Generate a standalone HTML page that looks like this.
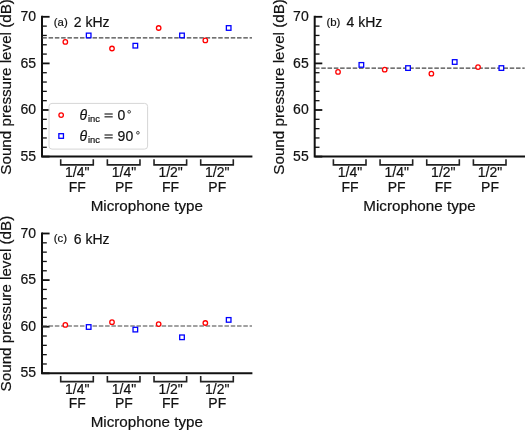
<!DOCTYPE html>
<html><head><meta charset="utf-8"><style>
html,body{margin:0;padding:0;background:#fff;}
svg{display:block;will-change:transform;}
text{font-family:"Liberation Sans",sans-serif;fill:#111;stroke:#111;stroke-width:0.2px;}
.tk{font-size:14.0px;}
.lab{font-size:15.2px;}
.tt{font-size:14.0px;}
.sm{font-size:11.4px;}
.maj{stroke:#111;stroke-width:1.8;}
.min{stroke:#111;stroke-width:1.3;}
.sp{stroke:#111;stroke-width:2;fill:none;stroke-linecap:butt;stroke-linejoin:miter;}
.br{stroke:#222;stroke-width:1.6;fill:none;}
.dash{stroke:#444;stroke-width:1.2;stroke-dasharray:4.5 1.782;}
.mr{stroke:#ff0000;stroke-width:1.3;fill:#fff;}
.mb{stroke:#0000ff;stroke-width:1.3;fill:#fff;}
.eq{fill:#111;}
.deg{fill:none;stroke:#222;stroke-width:0.85;}
.lg{stroke:#d6d6d6;stroke-width:1;fill:#fff;fill-opacity:0.8;}
</style></head>
<body><svg width="525" height="431" viewBox="0 0 525 431">
<rect width="525" height="431" fill="#fff"/>
<g transform="translate(0,0)">
<text class="lab" transform="translate(11.3,86.9) rotate(-90)" text-anchor="middle">Sound pressure level (dB)</text>
<text class="tk" x="36" y="160.7" text-anchor="end">55</text>
<text class="tk" x="36" y="114.1" text-anchor="end">60</text>
<text class="tk" x="36" y="67.5" text-anchor="end">65</text>
<text class="tk" x="36" y="20.9" text-anchor="end">70</text>
<line x1="42" y1="156.6" x2="49.6" y2="156.6" class="maj"/>
<line x1="42" y1="147.28" x2="46.8" y2="147.28" class="min"/>
<line x1="42" y1="137.96" x2="46.8" y2="137.96" class="min"/>
<line x1="42" y1="128.64" x2="46.8" y2="128.64" class="min"/>
<line x1="42" y1="119.32" x2="46.8" y2="119.32" class="min"/>
<line x1="42" y1="110" x2="49.6" y2="110" class="maj"/>
<line x1="42" y1="100.68" x2="46.8" y2="100.68" class="min"/>
<line x1="42" y1="91.36" x2="46.8" y2="91.36" class="min"/>
<line x1="42" y1="82.04" x2="46.8" y2="82.04" class="min"/>
<line x1="42" y1="72.72" x2="46.8" y2="72.72" class="min"/>
<line x1="42" y1="63.4" x2="49.6" y2="63.4" class="maj"/>
<line x1="42" y1="54.08" x2="46.8" y2="54.08" class="min"/>
<line x1="42" y1="44.76" x2="46.8" y2="44.76" class="min"/>
<line x1="42" y1="35.44" x2="46.8" y2="35.44" class="min"/>
<line x1="42" y1="26.12" x2="46.8" y2="26.12" class="min"/>
<line x1="42" y1="16.8" x2="49.6" y2="16.8" class="maj"/>
<path d="M42 15.8 V156.6 H252.4" class="sp"/>
<line x1="42.3" y1="37.92" x2="252" y2="37.92" class="dash"/>
<circle cx="65.33" cy="41.96" r="2.25" class="mr"/>
<rect x="86.37" y="33.14" width="4.6" height="4.6" class="mb"/>
<circle cx="112" cy="48.49" r="2.25" class="mr"/>
<rect x="133.03" y="43.39" width="4.6" height="4.6" class="mb"/>
<circle cx="158.67" cy="27.98" r="2.25" class="mr"/>
<rect x="179.7" y="33.14" width="4.6" height="4.6" class="mb"/>
<circle cx="205.33" cy="40.38" r="2.25" class="mr"/>
<rect x="226.37" y="25.68" width="4.6" height="4.6" class="mb"/>
<path d="M60.7 159.3 V164.9 H93.3 V159.3" class="br"/>
<text class="tk" x="77.3" y="177.2" text-anchor="middle">1/4&quot;</text>
<text class="tk" x="77.3" y="191.6" text-anchor="middle">FF</text>
<path d="M107.37 159.3 V164.9 H139.97 V159.3" class="br"/>
<text class="tk" x="123.97" y="177.2" text-anchor="middle">1/4&quot;</text>
<text class="tk" x="123.97" y="191.6" text-anchor="middle">PF</text>
<path d="M154.03 159.3 V164.9 H186.63 V159.3" class="br"/>
<text class="tk" x="170.63" y="177.2" text-anchor="middle">1/2&quot;</text>
<text class="tk" x="170.63" y="191.6" text-anchor="middle">FF</text>
<path d="M200.7 159.3 V164.9 H233.3 V159.3" class="br"/>
<text class="tk" x="217.3" y="177.2" text-anchor="middle">1/2&quot;</text>
<text class="tk" x="217.3" y="191.6" text-anchor="middle">PF</text>
<text class="lab" x="146.8" y="210.7" text-anchor="middle">Microphone type</text>
<text class="sm" x="53.8" y="25.6">(a)</text>
<text class="tt" x="73.8" y="27.1">2 kHz</text>

<rect x="49" y="103.4" width="98.6" height="45.7" rx="3" ry="3" class="lg"/>
<circle cx="61.15" cy="115.1" r="2.25" class="mr"/>
<rect x="58.85" y="133.7" width="4.6" height="4.6" class="mb"/>
<text class="tk" x="79.6" y="120" font-size="13.6" font-style="italic">θ</text>
<text x="88" y="121.5" font-size="9.4">inc</text>
<rect x="104.5" y="113.45" width="8.2" height="1.1" class="eq"/>
<rect x="104.5" y="116.3" width="8.2" height="1.1" class="eq"/>
<text class="tk" x="117.6" y="120">0</text>
<circle cx="129.15" cy="111.8" r="1.35" class="deg"/>
<text class="tk" x="79.6" y="141" font-size="13.6" font-style="italic">θ</text>
<text x="88" y="142.5" font-size="9.4">inc</text>
<rect x="104.5" y="134.45" width="8.2" height="1.1" class="eq"/>
<rect x="104.5" y="137.3" width="8.2" height="1.1" class="eq"/>
<text class="tk" x="117.6" y="141">90</text>
<circle cx="137.9" cy="132.8" r="1.35" class="deg"/>

</g>
<g transform="translate(272.7,0)">
<text class="lab" transform="translate(11.3,86.9) rotate(-90)" text-anchor="middle">Sound pressure level (dB)</text>
<text class="tk" x="36" y="160.7" text-anchor="end">55</text>
<text class="tk" x="36" y="114.1" text-anchor="end">60</text>
<text class="tk" x="36" y="67.5" text-anchor="end">65</text>
<text class="tk" x="36" y="20.9" text-anchor="end">70</text>
<line x1="42" y1="156.6" x2="49.6" y2="156.6" class="maj"/>
<line x1="42" y1="147.28" x2="46.8" y2="147.28" class="min"/>
<line x1="42" y1="137.96" x2="46.8" y2="137.96" class="min"/>
<line x1="42" y1="128.64" x2="46.8" y2="128.64" class="min"/>
<line x1="42" y1="119.32" x2="46.8" y2="119.32" class="min"/>
<line x1="42" y1="110" x2="49.6" y2="110" class="maj"/>
<line x1="42" y1="100.68" x2="46.8" y2="100.68" class="min"/>
<line x1="42" y1="91.36" x2="46.8" y2="91.36" class="min"/>
<line x1="42" y1="82.04" x2="46.8" y2="82.04" class="min"/>
<line x1="42" y1="72.72" x2="46.8" y2="72.72" class="min"/>
<line x1="42" y1="63.4" x2="49.6" y2="63.4" class="maj"/>
<line x1="42" y1="54.08" x2="46.8" y2="54.08" class="min"/>
<line x1="42" y1="44.76" x2="46.8" y2="44.76" class="min"/>
<line x1="42" y1="35.44" x2="46.8" y2="35.44" class="min"/>
<line x1="42" y1="26.12" x2="46.8" y2="26.12" class="min"/>
<line x1="42" y1="16.8" x2="49.6" y2="16.8" class="maj"/>
<path d="M42 15.8 V156.6 H252.4" class="sp"/>
<line x1="42.3" y1="68.15" x2="252" y2="68.15" class="dash"/>
<circle cx="65.33" cy="71.88" r="2.25" class="mr"/>
<rect x="86.37" y="62.59" width="4.6" height="4.6" class="mb"/>
<circle cx="112" cy="69.64" r="2.25" class="mr"/>
<rect x="133.03" y="65.76" width="4.6" height="4.6" class="mb"/>
<circle cx="158.67" cy="73.65" r="2.25" class="mr"/>
<rect x="179.7" y="59.7" width="4.6" height="4.6" class="mb"/>
<circle cx="205.33" cy="67.03" r="2.25" class="mr"/>
<rect x="226.37" y="65.76" width="4.6" height="4.6" class="mb"/>
<path d="M60.7 159.3 V164.9 H93.3 V159.3" class="br"/>
<text class="tk" x="77.3" y="177.2" text-anchor="middle">1/4&quot;</text>
<text class="tk" x="77.3" y="191.6" text-anchor="middle">FF</text>
<path d="M107.37 159.3 V164.9 H139.97 V159.3" class="br"/>
<text class="tk" x="123.97" y="177.2" text-anchor="middle">1/4&quot;</text>
<text class="tk" x="123.97" y="191.6" text-anchor="middle">PF</text>
<path d="M154.03 159.3 V164.9 H186.63 V159.3" class="br"/>
<text class="tk" x="170.63" y="177.2" text-anchor="middle">1/2&quot;</text>
<text class="tk" x="170.63" y="191.6" text-anchor="middle">FF</text>
<path d="M200.7 159.3 V164.9 H233.3 V159.3" class="br"/>
<text class="tk" x="217.3" y="177.2" text-anchor="middle">1/2&quot;</text>
<text class="tk" x="217.3" y="191.6" text-anchor="middle">PF</text>
<text class="lab" x="146.8" y="210.7" text-anchor="middle">Microphone type</text>
<text class="sm" x="53.8" y="25.6">(b)</text>
<text class="tt" x="73.8" y="27.1">4 kHz</text>
</g>
<g transform="translate(0,216.7)">
<text class="lab" transform="translate(11.3,86.9) rotate(-90)" text-anchor="middle">Sound pressure level (dB)</text>
<text class="tk" x="36" y="160.7" text-anchor="end">55</text>
<text class="tk" x="36" y="114.1" text-anchor="end">60</text>
<text class="tk" x="36" y="67.5" text-anchor="end">65</text>
<text class="tk" x="36" y="20.9" text-anchor="end">70</text>
<line x1="42" y1="156.6" x2="49.6" y2="156.6" class="maj"/>
<line x1="42" y1="147.28" x2="46.8" y2="147.28" class="min"/>
<line x1="42" y1="137.96" x2="46.8" y2="137.96" class="min"/>
<line x1="42" y1="128.64" x2="46.8" y2="128.64" class="min"/>
<line x1="42" y1="119.32" x2="46.8" y2="119.32" class="min"/>
<line x1="42" y1="110" x2="49.6" y2="110" class="maj"/>
<line x1="42" y1="100.68" x2="46.8" y2="100.68" class="min"/>
<line x1="42" y1="91.36" x2="46.8" y2="91.36" class="min"/>
<line x1="42" y1="82.04" x2="46.8" y2="82.04" class="min"/>
<line x1="42" y1="72.72" x2="46.8" y2="72.72" class="min"/>
<line x1="42" y1="63.4" x2="49.6" y2="63.4" class="maj"/>
<line x1="42" y1="54.08" x2="46.8" y2="54.08" class="min"/>
<line x1="42" y1="44.76" x2="46.8" y2="44.76" class="min"/>
<line x1="42" y1="35.44" x2="46.8" y2="35.44" class="min"/>
<line x1="42" y1="26.12" x2="46.8" y2="26.12" class="min"/>
<line x1="42" y1="16.8" x2="49.6" y2="16.8" class="maj"/>
<path d="M42 15.8 V156.6 H252.4" class="sp"/>
<line x1="42.3" y1="109.3" x2="252" y2="109.3" class="dash"/>
<circle cx="65.33" cy="108.2" r="2.25" class="mr"/>
<rect x="86.37" y="108" width="4.6" height="4.6" class="mb"/>
<circle cx="112" cy="105.5" r="2.25" class="mr"/>
<rect x="133.03" y="110.6" width="4.6" height="4.6" class="mb"/>
<circle cx="158.67" cy="107.4" r="2.25" class="mr"/>
<rect x="179.7" y="118.3" width="4.6" height="4.6" class="mb"/>
<circle cx="205.33" cy="106.3" r="2.25" class="mr"/>
<rect x="226.37" y="100.9" width="4.6" height="4.6" class="mb"/>
<path d="M60.7 159.3 V164.9 H93.3 V159.3" class="br"/>
<text class="tk" x="77.3" y="177.2" text-anchor="middle">1/4&quot;</text>
<text class="tk" x="77.3" y="191.6" text-anchor="middle">FF</text>
<path d="M107.37 159.3 V164.9 H139.97 V159.3" class="br"/>
<text class="tk" x="123.97" y="177.2" text-anchor="middle">1/4&quot;</text>
<text class="tk" x="123.97" y="191.6" text-anchor="middle">PF</text>
<path d="M154.03 159.3 V164.9 H186.63 V159.3" class="br"/>
<text class="tk" x="170.63" y="177.2" text-anchor="middle">1/2&quot;</text>
<text class="tk" x="170.63" y="191.6" text-anchor="middle">FF</text>
<path d="M200.7 159.3 V164.9 H233.3 V159.3" class="br"/>
<text class="tk" x="217.3" y="177.2" text-anchor="middle">1/2&quot;</text>
<text class="tk" x="217.3" y="191.6" text-anchor="middle">PF</text>
<text class="lab" x="146.8" y="210.7" text-anchor="middle">Microphone type</text>
<text class="sm" x="53.8" y="25.6">(c)</text>
<text class="tt" x="73.8" y="27.1">6 kHz</text>
</g>
</svg></body></html>
